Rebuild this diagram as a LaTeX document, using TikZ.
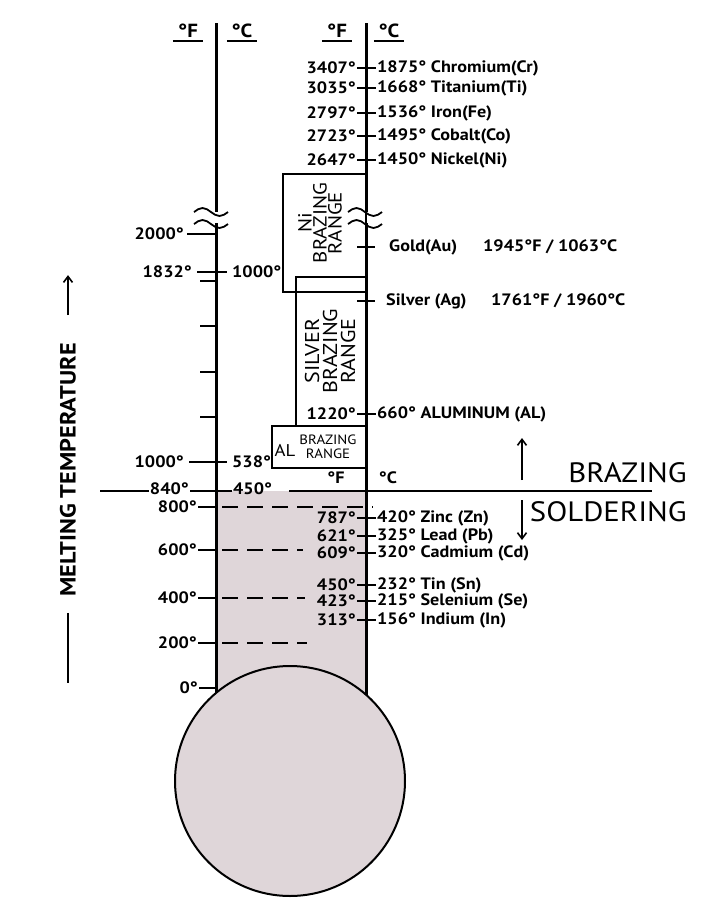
\documentclass[tikz,border=0pt]{standalone}
\usepackage{fontspec}
\setmainfont{PT Sans}[FakeStretch=1.1]
\usepackage{xcolor}
\usetikzlibrary{arrows.meta, positioning}
\definecolor{mercury}{RGB}{223,214,217}
\tikzset{
    axis/.style={line width=3pt},
    tick/.style={line width=1.8pt},
    level/.style={line width=1.8pt, dash pattern=on 16pt off 9pt},
    rangebox/.style={draw, line width=1.3pt},
    lbl/.style={font=\bfseries\fontsize{16.5}{16.5}\selectfont, inner sep=1pt},
    hdr/.style={font=\bfseries\fontsize{19}{19}\selectfont, inner xsep=0pt, inner ysep=3pt, minimum width=30pt},
    big/.style={font=\fontsize{28}{28}\selectfont, inner sep=0pt, anchor=east},
    rangetxt/.style={align=center, rotate=90, inner sep=0pt},
    arr/.style={line width=1.6pt, -{Straight Barb[length=6pt, width=9pt]}}
}

\begin{document}
\begin{tikzpicture}[x=1pt, y=-1pt]
    \useasboundingbox (0,0) rectangle (720,922);
    \coordinate (axL) at (216,0);
    \coordinate (axR) at (366,0);
    % mercury
    \fill[mercury] (216,491) rectangle (366,700);
    \filldraw[fill=mercury, line width=2pt] (290,781) circle[radius=115pt];
    \draw[axis] (216,23) -- (216,212) (216,223) -- (216,693);
    \draw[axis] (366,23) -- (366,212) (366,223) -- (366,695);
    \foreach \x in {211,365}
        \foreach \y in {212,224}
            \draw[tick] (\x-17,\y) sin (\x-8.5,\y-4) cos (\x,\y) sin (\x+8.5,\y+4) cos (\x+17,\y);
    % headers
    \foreach \x/\u [count=\i] in {188/F, 242/C, 337/F, 389/C}{
        \node[hdr] (h\i) at (\x,31) {°\u};
        \draw[tick] (h\i.south west) -- (h\i.south east);
    }
    % metals
    \foreach \y/\f/\c/\el [count=\i] in {68/3407/1875/Chromium(Cr), 88/3035/1668/Titanium(Ti),
        113/2797/1536/Iron(Fe), 136/2723/1495/Cobalt(Co), 160/2647/1450/Nickel(Ni),
        414/1220/660/ALUMINUM (AL), 518/787/420/Zinc (Zn), 536/621/325/Lead (Pb),
        553/609/320/Cadmium (Cd), 585/450/232/Tin (Sn), 601/423/215/Selenium (Se),
        620/313/156/Indium (In)}{
        \node[lbl, anchor=east] (f\i) at (357,\y) {\f°};
        \node[lbl, anchor=west] (c\i) at (376,\y) {\c° \el};
        \draw[tick] (f\i.east) -- (c\i.west);
    }
    \node[lbl, anchor=west] (gold) at (388,247) {Gold(Au)};
    \node[lbl, anchor=west] (goldt) at (482,247) {1945°F / 1063°C};
    \draw[tick] ([xshift=-9pt]axR |- gold) -- ([xshift=9pt]axR |- gold);
    \node[lbl, anchor=west] (silv) at (385,301) {Silver (Ag)};
    \node[lbl, anchor=west] (silvt) at (490,301) {1761°F / 1960°C};
    \draw[tick] ([xshift=-9pt]axR |- silv) -- ([xshift=9pt]axR |- silv);
    % brazing ranges
    \draw[rangebox] (283,174) rectangle (366,292);
    \node[rangetxt, font=\fontsize{19}{15}\selectfont] (ni) at (320,223) {Ni\\BRAZING\\RANGE};
    \draw[rangebox] (296,277) rectangle (366,426);
    \node[rangetxt, font=\fontsize{20}{18}\selectfont] (ag) at (330,351) {SILVER\\BRAZING\\RANGE};
    \draw[rangebox] (272,426) rectangle (366,468);
    \node[inner sep=0pt, font=\fontsize{17}{17}\selectfont] (al) at (285,450) {AL};
    \node[align=center, inner sep=0pt, font=\fontsize{13.5}{13.5}\selectfont] (alr) at (328,447) {BRAZING\\RANGE};
    % left scale
    \node[lbl, anchor=east] (t2000) at (185,234) {2000°};
    \draw[tick] ([xshift=2pt]t2000.east) -- (t2000.east -| axL);
    \node[lbl, anchor=east] (t1832) at (193,272) {1832°};
    \node[lbl, anchor=west] (c1000) at (231,272) {1000°};
    \draw[tick] ([xshift=4pt]t1832.east) -- ([xshift=-4pt]c1000.west);
    \foreach \y in {281,326,372,417}
        \draw[tick] (200,\y) -- (216,\y);
    \node[lbl, anchor=east] (t1000) at (185,462) {1000°};
    \node[lbl, anchor=west] (c538) at (231,462) {538°};
    \draw[tick] ([xshift=4pt]t1000.east) -- ([xshift=-4pt]c538.west);
    % brazing / soldering line
    \coordinate (lineL) at (100,491);
    \coordinate (lineR) at (652,491);
    \node[lbl, anchor=east] (t840) at (190,489) {840°};
    \node[lbl, anchor=west] (c450) at (232,489) {450°};
    \draw[tick] (lineL) -- (t840.west |- lineL) (t840.east |- lineL) -- (c450.west |- lineL)
        ([xshift=16pt]c450.east |- lineL) -- (lineR);
    \node[lbl] (zf) at (336,478) {°F};
    \node[lbl] (zc) at (388,478) {°C};
    \node[big] (braz) at (687,473) {BRAZING};
    \node[big] (sold) at (687,512) {SOLDERING};
    \draw[arr] (522,480) -- (522,438);
    \draw[arr] (522,500) -- (522,540);
    % solder levels
    \foreach \y/\t/\e in {507/800/373, 550/600/303, 598/400/305, 643/200/307}{
        \node[lbl, anchor=east] (s\t) at (198,\y) {\t°};
        \draw[tick] (s\t.east) -- (s\t.east -| axL);
        \draw[level] (222,\y) -- (\e,\y);
    }
    \node[lbl, anchor=east] (s0) at (199,688) {0°};
    \draw[tick] (s0.east) -- (s0.east -| axL);
    % side label
    \node[rotate=90, inner sep=0pt, font=\bfseries\fontsize{22}{22}\selectfont] (melt) at (68,470) {MELTING TEMPERATURE};
    \draw[arr] ([yshift=28pt]melt.east) -- ++(0,-40);
    \draw[tick] ([yshift=-16pt]melt.west) -- ++(0,70);
\end{tikzpicture}
\end{document}
